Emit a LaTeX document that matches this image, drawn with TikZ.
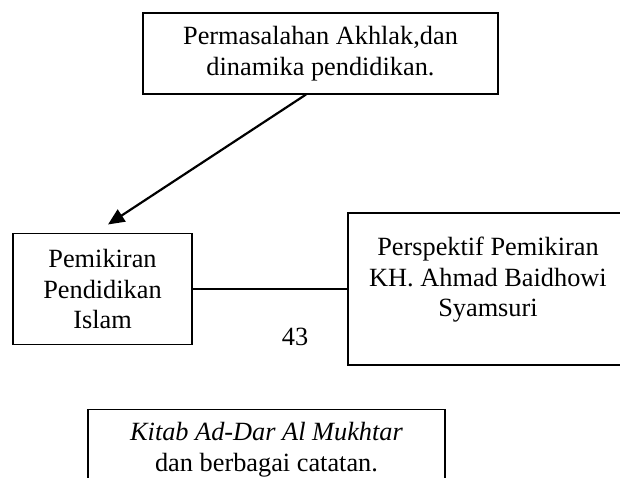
\documentclass[tikz,border=0pt]{standalone}
\usepackage{fontspec}
\setmainfont{Liberation Serif}
\usetikzlibrary{arrows.meta,calc}

\begin{document}
\begin{tikzpicture}[
    x=0.456pt, y=-0.456pt,
    every node/.style={font=\fontsize{12}{13.9}\selectfont, align=center, inner sep=0pt},
    box/.style={draw, line width=0.5pt, rectangle},
    arrow/.style={line width=1pt, -{Triangle[length=7.5pt, width=6.5pt]}},
]
  \clip (0,0) rectangle (620,477);
  \node [box, minimum width=161.9pt, minimum height=36.9pt] (prob)      at (320.5,53.5) {Permasalahan Akhlak,dan\\dinamika pendidikan.};
  \node [box, minimum width=81.6pt,  minimum height=50.6pt] (pemikiran) at (102.5,289)  {Pemikiran\\Pendidikan\\Islam};
  \node [box, minimum width=127.7pt, minimum height=69.3pt] (persp)     at (488,289)    {}  edge [-, line width=0.5pt] (pemikiran);
  \node [anchor=north]                                      (persptext) at (488,237)    {Perspektif Pemikiran\\KH. Ahmad Baidhowi\\Syamsuri};
  \node []                                                  (page)      at (295,337)    {43};
  \node [box, minimum width=162.8pt, minimum height=36.9pt] (kitab)     at (266.5,449.5) {\textit{Kitab Ad-Dar Al Mukhtar}\\dan berbagai catatan.};
  \draw [arrow] ($(prob.south)+(-14.5,0)$) -- ($(pemikiran.north)+(5.5,-8.5)$);
\end{tikzpicture}
\end{document}
